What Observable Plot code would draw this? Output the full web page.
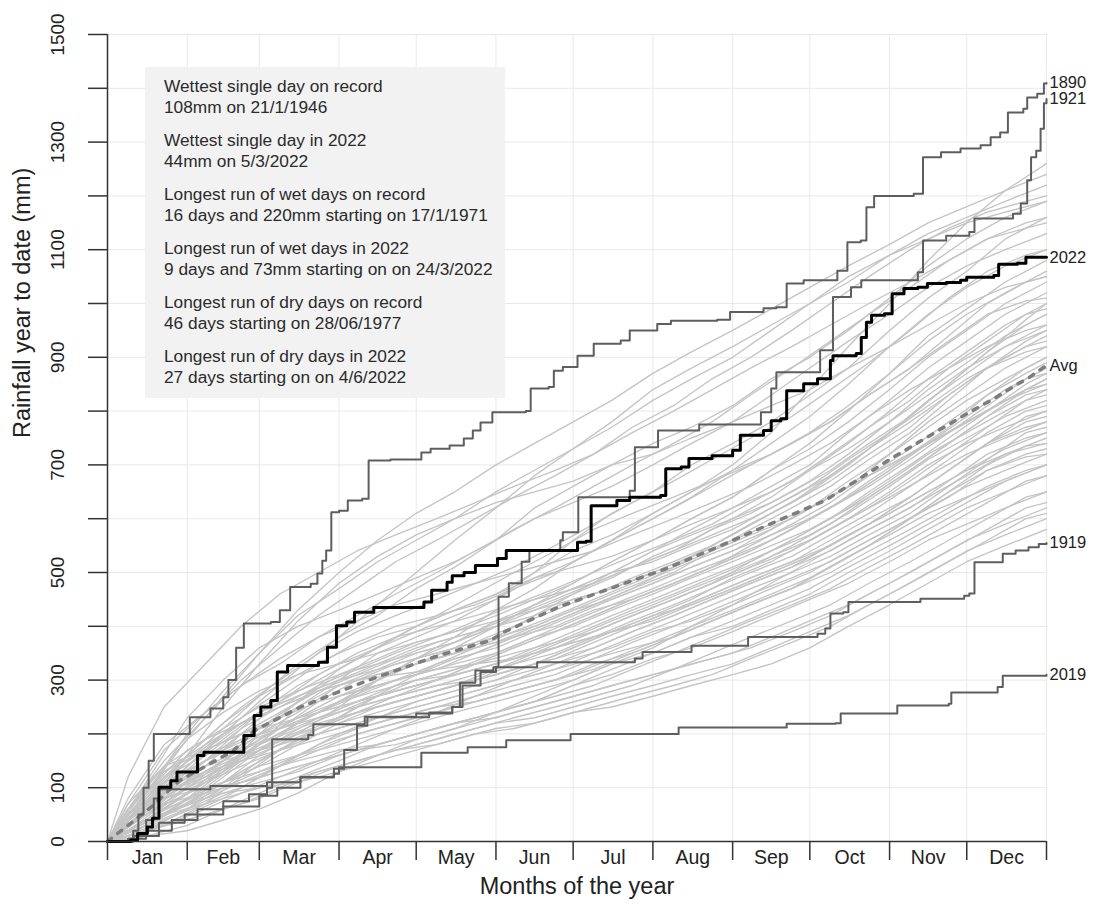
<!DOCTYPE html>
<html><head><meta charset="utf-8">
<script src="https://cdn.jsdelivr.net/npm/d3@7"></script>
<script src="https://cdn.jsdelivr.net/npm/@observablehq/plot@0.6"></script>
<style>
body{margin:0;background:#fff;}
#wrap{position:relative;width:1095px;height:908px;font-family:"Liberation Sans",Arial,Helvetica,sans-serif;}
#note{position:absolute;left:145px;top:67px;width:360px;height:331px;background:#f2f2f2;}
#note div{position:absolute;left:19px;font-size:17.3px;line-height:20px;color:#2b2b2b;white-space:nowrap;}
</style></head>
<body><div id="wrap"><div id="chart"></div><div id="note"></div></div>
<script>
// ---- axis / tick data ----
const monthNames = ["Jan","Feb","Mar","Apr","May","Jun","Jul","Aug","Sep","Oct","Nov","Dec"];
const monthStarts = [0,31,59,90,120,151,181,212,243,273,304,334,365];
const monthMids = [15.5,45,74.5,105,135.5,166,196.5,227.5,258,288.5,319,349.5];
const yTicks = [0,100,200,300,400,500,600,700,800,900,1000,1100,1200,1300,1400,1500];
const yLabels = [0,100,300,500,700,900,1100,1300,1500];

// ---- highlighted years: [day of year, cumulative mm] ----
const y1890 = [[0,0],[8,5],[10,20],[12,50],[14,100],[16,150],[18,200],[30,200],[32,231],[40,247],[45,268],[47,300],[50,360],[53,405],[63.5,408],[67,430],[71,473],[79,479],[81.6,498],[83.5,522],[85,541],[87,612],[90,615],[93.4,634],[99,637],[101.5,708],[110,710],[122,723],[125.6,730],[133,736],[138.5,749],[142,764],[145,779],[149.6,798],[162.6,800],[164.5,842],[171.5,845],[173.5,875],[177,882],[182.7,903],[189,925],[199.5,931],[203,950],[213.7,962],[219,968],[237,970],[242,984],[255,991],[260,993],[264,1037],[270.6,1043],[283.7,1061],[287.6,1114],[292.8,1117],[295,1179],[298,1200],[313.4,1204],[317,1272],[324,1281],[331.6,1288],[339.4,1294],[343.3,1309],[347,1318],[350,1355],[356,1362],[357.5,1383],[361.4,1390],[364,1409],[365,1410]];
const y1921 = [[0,0],[8,5],[15,20],[25,40],[35,60],[45,75],[55,88],[62,100],[64,190],[78,198],[80,218],[100,232],[120,238],[134,250],[138,290],[145,315],[151,325],[152,455],[156,480],[161,520],[164,541],[176,560],[177,575],[183,640],[203,652],[205,733],[214,764],[230,775],[254,798],[258,842],[260,872],[277,913],[282,1012],[289,1030],[293,1043],[315,1058],[317,1117],[326,1126],[335,1133],[337,1158],[352,1167],[355,1186],[357.5,1229],[359,1272],[361,1284],[362.7,1325],[364,1372],[365,1380]];
const y1919 = [[0,0],[10,10],[20,35],[30,50],[45,65],[59,85],[66,100],[75,120],[88,135],[92,170],[97,215],[101,231],[125,240],[134,250],[137,295],[143,318],[150,324],[167,333],[205,340],[208,352],[227,364],[249,380],[276,386],[279,396],[281,424],[286,426],[288,445],[316,451],[333,457],[335,461],[337,519],[348,535],[353,541],[358,547],[362,553],[365,555]];
const y2019 = [[0,0],[10,10],[15,40],[18,80],[20,97],[40,103],[62,110],[75,119],[88,126],[90,138],[122,165],[140,175],[155,188],[180,200],[222,212],[264,219],[283,220],[285,238],[307,253],[327,256],[328,277],[346,287],[348,308],[365,310]];
const y2022 = [[0,0],[9,3],[11.7,15],[15.5,27],[17.5,43],[20,101],[24.6,113],[27,129],[35,160],[37.5,166],[53,197],[57,234],[59.6,250],[63.5,262],[66,315],[70,327],[82,333],[85.5,361],[89,401],[93,408],[96,426],[103.5,435],[123,445],[126,467],[132,482],[134,494],[138.6,500],[143,513],[151.6,526],[155,541],[182.7,556],[186,558],[188,624],[198,634],[203,640],[215,643],[217,693],[223,696],[226,712],[235,717],[243,727],[246,755],[255,764],[258,782],[261.7,786],[264,838],[270.6,851],[276,860],[281,894],[282,903],[291,907],[293,937],[295,965],[297,978],[302,981],[305,1018],[309.6,1028],[315,1030],[318.7,1037],[326,1039],[331.6,1043],[334,1049],[344.5,1052],[346.4,1073],[353.7,1075],[357,1086],[365,1086]];

// ---- long-term average ----
const avgDays   = [0,17,28,49,57,75,101,127,149,154,175,197,217,237,258,279,304,334,344.5,354,357.5,365];
const avgValues = [0,64,113,169,206,250,299,343,374,389,435,473,507,547,591,634,710,795,823,851,860,885];

// ---- other years, first group (sampled on these days) ----
const sampleDays = [0,15,31,45,59,74,90,105,120,135,151,166,181,196,212,227,243,258,273,288,304,319,334,349,365];
const otherYears = [
 [0,40,90,140,190,230,270,300,340,380,430,470,520,560,610,650,700,760,840,920,1000,1080,1150,1210,1260],
 [0,90,200,280,350,420,470,520,560,600,650,690,730,780,840,880,920,960,1000,1040,1090,1130,1160,1190,1220],
 [0,70,150,210,270,330,380,420,470,510,560,620,660,700,740,770,810,860,900,950,1010,1070,1120,1160,1190],
 [0,30,80,130,180,250,300,350,380,410,450,500,560,610,650,700,740,780,830,880,950,1010,1060,1120,1160],
 [0,110,230,300,360,400,430,460,490,520,560,600,630,660,700,740,780,830,880,930,980,1030,1070,1100,1130],
 [0,60,120,180,240,290,330,360,390,420,450,490,520,560,600,640,690,740,790,850,920,980,1030,1070,1100],
 [0,20,60,110,160,200,250,300,330,360,400,440,480,520,560,600,640,690,740,800,870,940,990,1040,1080],
 [0,80,160,220,270,310,350,380,400,430,460,500,540,570,610,650,690,720,760,810,870,930,980,1020,1060],
 [0,50,110,150,210,260,310,340,370,390,420,450,480,520,560,600,640,690,730,780,840,900,950,1000,1040],
 [0,40,100,140,180,220,260,300,340,370,410,440,470,500,540,580,620,660,700,760,820,880,930,980,1020],
 [0,70,140,190,240,270,300,330,360,380,400,430,460,490,530,560,600,640,690,740,800,860,910,960,1000],
 [0,30,70,120,170,220,260,300,330,350,380,420,460,500,540,570,600,630,670,720,780,840,890,940,980],
 [0,90,170,210,250,280,310,330,350,370,400,420,450,470,500,530,570,610,650,700,760,820,870,920,960],
 [0,50,100,150,200,240,290,320,350,370,400,440,470,500,520,550,580,620,660,710,760,810,860,900,940],
 [0,60,130,170,210,250,290,310,330,350,370,400,430,460,490,520,550,580,620,660,720,780,830,880,920],
 [0,40,90,130,180,220,260,290,310,340,360,390,420,450,480,510,540,580,620,670,720,770,820,860,900],
 [0,80,150,200,240,270,300,320,340,360,380,400,430,450,480,510,540,570,600,640,690,740,790,840,880],
 [0,20,60,100,150,190,230,270,300,320,350,380,410,440,470,500,530,560,600,640,690,740,780,820,860],
 [0,60,110,150,190,230,270,290,310,330,350,380,400,430,460,490,520,550,580,620,670,720,760,800,840],
 [0,40,90,140,180,210,240,270,290,310,330,360,390,420,450,480,510,540,570,610,660,710,750,790,820],
 [0,70,130,170,200,230,260,280,300,310,330,350,370,390,420,450,490,520,560,600,650,700,740,770,800],
 [0,30,70,110,140,180,220,250,270,290,320,350,380,410,440,470,500,530,560,600,640,680,720,750,780],
 [0,50,100,130,170,200,230,250,270,290,310,330,360,390,420,440,470,500,530,570,610,650,690,730,760],
 [0,20,50,80,120,160,200,230,260,280,300,330,360,390,410,440,470,500,530,570,610,650,690,720,740],
 [0,60,110,140,170,200,220,240,260,280,300,320,340,360,390,410,440,470,500,540,580,620,660,690,720],
 [0,30,70,100,130,160,190,210,230,250,270,290,310,340,370,400,430,460,490,530,570,610,640,670,700],
 [0,40,80,110,140,160,180,200,220,240,260,280,300,330,350,380,400,430,460,500,540,580,620,650,680],
 [0,10,30,60,90,120,150,180,200,220,240,260,290,310,340,360,390,420,450,480,520,560,590,620,650],
 [0,30,60,90,110,130,160,180,200,220,230,250,270,290,310,330,350,380,410,440,480,520,560,590,620],
 [0,20,40,60,80,110,140,160,180,200,220,230,250,270,290,310,330,360,390,420,460,500,540,570,600],
 [0,40,70,90,100,110,130,150,170,190,210,220,240,250,270,290,310,330,360,400,440,480,520,550,580],
 [0,10,20,40,60,90,130,160,190,210,240,270,300,330,360,400,440,480,520,560,600,640,680,720,750],
 [0,100,190,240,280,310,330,350,370,390,410,430,450,470,500,530,560,590,620,660,700,740,780,820,850],
 [0,30,80,130,200,260,320,360,400,430,460,490,510,530,560,590,620,650,690,730,780,830,880,920,950],
 [0,70,160,250,330,410,480,530,570,600,630,650,670,700,720,750,780,810,840,880,920,960,1000,1030,1050],
 [0,50,90,110,130,150,170,180,200,220,240,260,290,320,350,380,410,440,470,510,550,590,630,670,700],
 [0,90,190,270,350,430,500,560,610,650,700,740,780,820,870,910,950,990,1030,1070,1110,1150,1180,1210,1240],
 [0,60,140,200,260,320,380,440,500,560,620,680,730,770,820,860,900,950,1000,1050,1090,1120,1150,1170,1190]
];

// ---- other years, second group (sampled on these days) ----
const sampleDays2 = [0,8,22,38,52,67,82,97,112,128,143,158,174,189,204,220,235,250,266,281,296,312,327,342,357,365];
const otherYears2 = [
 [0,30,90,150,200,240,280,310,340,370,390,420,450,480,510,540,580,610,650,690,740,790,850,910,970,1000],
 [0,20,70,130,170,210,240,270,300,320,350,380,410,440,470,500,540,580,620,660,710,760,820,880,930,950],
 [0,50,130,170,200,230,260,280,300,330,350,380,400,430,450,480,510,540,580,620,670,720,770,830,880,900],
 [0,10,50,100,150,190,230,260,280,300,320,340,370,400,430,460,490,520,560,600,650,700,750,800,850,870],
 [0,40,110,150,180,210,240,260,280,300,330,350,370,390,420,450,480,520,560,600,640,690,740,790,830,840],
 [0,20,60,90,130,170,210,250,270,290,310,330,350,380,410,440,470,500,530,570,610,660,710,760,800,810],
 [0,60,120,160,190,210,230,250,270,290,300,320,340,370,400,430,460,490,520,550,590,640,690,740,780,790],
 [0,30,80,110,140,170,200,220,240,260,280,300,330,360,390,420,450,480,510,540,580,620,670,720,750,760],
 [0,10,40,70,100,140,180,210,230,250,270,290,310,340,370,400,430,460,490,520,560,600,640,690,720,730],
 [0,50,100,130,150,170,190,210,230,250,260,280,300,330,350,380,410,440,470,500,540,580,620,660,690,700],
 [0,40,120,190,250,300,350,390,420,450,480,510,550,590,630,670,710,750,790,840,890,950,1010,1060,1090,1100],
 [0,70,170,240,290,330,380,420,460,500,540,580,620,660,700,740,780,830,880,930,980,1030,1080,1120,1140,1150],
 [0,30,100,170,230,280,330,370,400,420,440,470,500,540,580,620,660,700,740,780,830,880,940,1000,1040,1050],
 [0,60,140,190,220,250,280,300,320,340,360,380,410,440,470,510,550,590,630,680,730,790,850,910,960,980],
 [0,20,60,110,160,210,260,300,330,350,370,400,430,460,490,520,550,590,630,670,720,770,830,880,920,930],
 [0,40,100,140,170,200,230,260,290,310,330,360,390,420,450,480,510,550,590,630,680,730,780,830,870,890],
 [0,70,140,170,200,220,240,260,280,300,320,340,360,390,420,450,480,510,550,590,640,690,740,790,840,860],
 [0,10,30,70,120,170,210,240,260,280,300,330,360,390,420,450,480,510,540,580,620,670,720,770,820,830],
 [0,30,90,130,160,190,220,240,260,280,300,320,340,360,390,420,450,480,510,550,590,640,690,740,790,800],
 [0,50,110,140,160,180,200,220,240,260,280,300,320,350,380,410,440,470,500,530,570,610,660,710,760,770],
 [0,20,50,80,110,140,170,200,220,240,260,280,300,320,350,380,410,440,470,510,550,600,650,700,735,740],
 [0,30,70,90,110,130,150,170,190,210,230,250,270,290,320,350,380,410,440,470,510,550,590,630,670,680],
 [0,10,30,50,70,100,130,150,170,190,210,230,250,270,290,320,350,380,410,440,480,520,560,600,640,650],
 [0,40,80,100,110,130,150,170,180,200,220,240,260,280,300,320,340,360,390,420,460,500,540,580,620,630],
 [0,20,50,70,90,110,130,150,170,180,200,210,230,250,270,290,310,340,370,400,440,480,520,560,600,610],
 [0,80,180,240,290,340,380,410,440,460,480,500,520,540,570,600,630,660,700,740,790,840,880,920,950,960],
 [0,30,80,140,200,260,310,350,380,400,420,440,460,480,510,540,570,600,640,680,730,780,830,880,910,920],
 [0,50,120,170,220,260,300,340,380,420,460,500,540,580,610,640,670,700,740,780,830,880,930,980,1005,1010],
 [0,20,50,90,130,170,210,250,290,330,360,390,420,450,480,510,540,570,600,640,680,720,760,800,840,850],
 [0,60,130,180,220,250,280,300,310,320,330,340,360,380,400,430,460,490,520,560,600,640,690,740,770,780],
 [0,10,30,60,90,120,150,180,210,240,270,300,320,340,360,380,410,440,470,510,550,600,650,690,715,720],
 [0,40,90,120,150,180,210,240,270,300,330,360,390,420,450,480,510,540,580,620,660,710,760,810,860,870],
 [0,60,150,230,300,360,420,470,520,560,600,640,680,720,770,810,860,900,950,1000,1050,1100,1140,1170,1190,1200],
 [0,40,100,160,210,250,290,320,350,380,410,440,470,500,530,560,590,630,670,720,770,820,880,930,980,990],
 [0,120,250,330,400,460,500,540,570,600,630,660,690,720,760,800,840,880,920,960,1000,1040,1080,1120,1150,1160]
];

// ---- notes box ----
const notes = [
 ["Wettest single day on record", "108mm on 21/1/1946"],
 ["Wettest single day in 2022", "44mm on 5/3/2022"],
 ["Longest run of wet days on record", "16 days and 220mm starting on 17/1/1971"],
 ["Longest run of wet days in 2022", "9 days and 73mm starting on on 24/3/2022"],
 ["Longest run of dry days on record", "46 days starting on 28/06/1977"],
 ["Longest run of dry days in 2022", "27 days starting on on 4/6/2022"]
];

// ---- build tables ----
const bg = [
  ...otherYears.flatMap((vals, i) => vals.map((v, j) => ({id: "a" + i, day: sampleDays[j], value: v}))),
  ...otherYears2.flatMap((vals, i) => vals.map((v, j) => ({id: "b" + i, day: sampleDays2[j], value: v})))
];
const toRows = (name, arr) => arr.map(([d, v]) => ({name, day: d, value: v}));
const dark = [...toRows("1890", y1890), ...toRows("1921", y1921), ...toRows("1919", y1919), ...toRows("2019", y2019)];
const bold = toRows("2022", y2022);
const avg = avgDays.map((d, i) => ({day: d, value: avgValues[i]}));
const endLabels = [
 {label: "1890", day: 365, value: y1890.at(-1)[1]},
 {label: "1921", day: 365, value: y1921.at(-1)[1]},
 {label: "2022", day: 365, value: y2022.at(-1)[1]},
 {label: "Avg", day: 365, value: avgValues.at(-1)},
 {label: "1919", day: 365, value: y1919.at(-1)[1]},
 {label: "2019", day: 365, value: y2019.at(-1)[1]}
];
const monthLabelRows = monthMids.map((m, i) => ({day: m, name: monthNames[i]}));
const font = '"Liberation Sans", Arial, Helvetica, sans-serif';

const chart = Plot.plot({
  width: 1095, height: 908,
  marginLeft: 107, marginRight: 49, marginTop: 34, marginBottom: 67,
  x: {domain: [0, 365], label: null},
  y: {domain: [0, 1500], label: null},
  style: {fontFamily: font, background: "white", color: "#222", overflow: "visible"},
  marks: [
    Plot.gridX(monthStarts, {stroke: "#e9e9e9", strokeOpacity: 1}),
    Plot.gridY(yTicks, {stroke: "#e9e9e9", strokeOpacity: 1}),
    Plot.line(bg, {x: "day", y: "value", z: "id", stroke: "#c4c4c4", strokeWidth: 1.35}),
    Plot.line(avg, {x: "day", y: "value", stroke: "#7d7d7d", strokeWidth: 3.5, strokeDasharray: "5,8"}),
    Plot.line(dark, {x: "day", y: "value", z: "name", stroke: "#5e5e5e", strokeWidth: 2, curve: "step-after"}),
    Plot.line(bold, {x: "day", y: "value", stroke: "#000", strokeWidth: 3, curve: "step-after"}),
    Plot.text(endLabels, {x: "day", y: "value", text: "label", textAnchor: "start", dx: 3, fontSize: 16.5, fill: "#222"}),
    // axes
    Plot.ruleY([0], {stroke: "#333", strokeWidth: 1.5}),
    Plot.ruleX([0], {y1: () => yTicks[0], y2: () => yTicks.at(-1), stroke: "#333", strokeWidth: 1.5}),
    Plot.axisY(yTicks, {tickSize: 19, tickFormat: () => "", label: null, stroke: "#333", strokeWidth: 1.5}),
    Plot.axisX(monthStarts, {tickSize: 19, tickFormat: () => "", label: null, stroke: "#333", strokeWidth: 1.5}),
    Plot.text(yLabels, {y: d => d, text: d => String(d), frameAnchor: "left", dx: -50, rotate: -90, textAnchor: "middle", lineAnchor: "middle", fontSize: 19, fill: "#222"}),
    Plot.text(monthLabelRows, {x: "day", text: "name", frameAnchor: "bottom", dy: 22, fontSize: 19.5, fill: "#222"}),
    Plot.text(["Months of the year"], {frameAnchor: "bottom", dy: 52, fontSize: 23.5, fill: "#222"}),
    Plot.text(["Rainfall year to date (mm)"], {frameAnchor: "left", dx: -85, rotate: -90, fontSize: 23.5, fill: "#222"})
  ]
});
document.getElementById("chart").appendChild(chart);

const noteBox = document.getElementById("note");
notes.forEach((pair, i) => {
  pair.forEach((line, j) => {
    const el = document.createElement("div");
    el.textContent = line;
    el.style.top = (9 + i * 54 + j * 21) + "px";
    noteBox.appendChild(el);
  });
});
</script>
</body></html>
